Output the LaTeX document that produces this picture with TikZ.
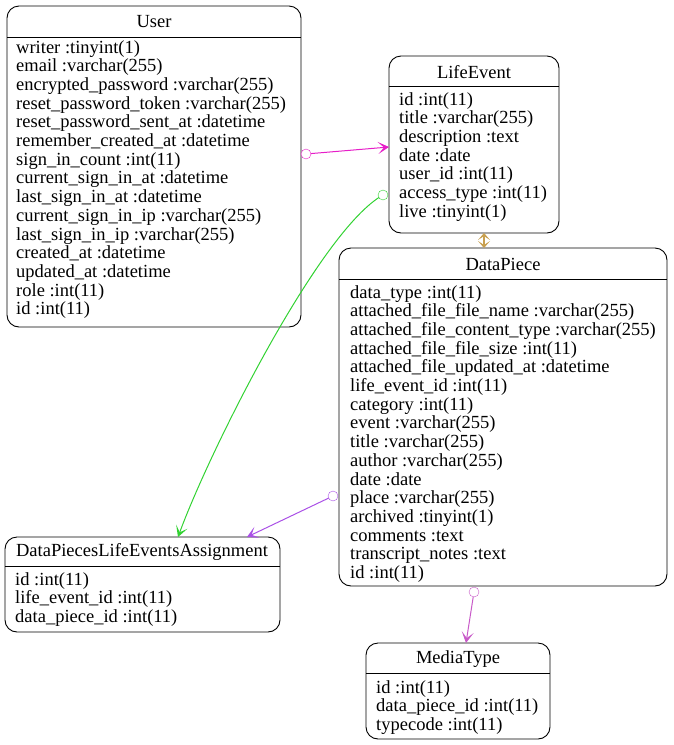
\documentclass[tikz,border=0pt]{standalone}
\usepackage{fontspec}
\setmainfont{Liberation Serif}
\usetikzlibrary{arrows.meta}
\begin{document}
\begin{tikzpicture}[x=1pt,y=-1pt,
  ent/.style={draw,rounded corners=12pt,line width=0.9pt},
  ttl/.style={font=\fontsize{18.5}{18.5}\selectfont,anchor=center,inner sep=0},
  att/.style={font=\fontsize{18.5}{18.7}\selectfont,anchor=north west,align=left,inner sep=0},
  crow/.style={-{Stealth[length=11pt,width=12pt,inset=6pt]}},
  odot/.style={draw,circle,minimum size=10pt,inner sep=0,fill=white}]
\useasboundingbox (0,0) rectangle (673,745);
% User
\draw[ent] (7,6) rectangle (301,327);
\draw[line width=0.9pt] (7,37) -- (301,37);
\node[ttl] (user) at (154,22) {User};
\node[att] (userA) at (16,40) {writer :tinyint(1)\\email :varchar(255)\\encrypted\_password :varchar(255)\\reset\_password\_token :varchar(255)\\reset\_password\_sent\_at :datetime\\remember\_created\_at :datetime\\sign\_in\_count :int(11)\\current\_sign\_in\_at :datetime\\last\_sign\_in\_at :datetime\\current\_sign\_in\_ip :varchar(255)\\last\_sign\_in\_ip :varchar(255)\\created\_at :datetime\\updated\_at :datetime\\role :int(11)\\id :int(11)};
% LifeEvent
\draw[ent] (389,56) rectangle (559,233);
\draw[line width=0.9pt] (389,86) -- (559,86);
\node[ttl] (le) at (474,72) {LifeEvent};
\node[att] (leA) at (399,92) {id :int(11)\\title :varchar(255)\\description :text\\date :date\\user\_id :int(11)\\access\_type :int(11)\\live :tinyint(1)};
% DataPiece
\draw[ent] (339,248) rectangle (667,586);
\draw[line width=0.9pt] (339,279) -- (667,279);
\node[ttl] (dp) at (503,264) {DataPiece};
\node[att] (dpA) at (350,285) {data\_type :int(11)\\attached\_file\_file\_name :varchar(255)\\attached\_file\_content\_type :varchar(255)\\attached\_file\_file\_size :int(11)\\attached\_file\_updated\_at :datetime\\life\_event\_id :int(11)\\category :int(11)\\event :varchar(255)\\title :varchar(255)\\author :varchar(255)\\date :date\\place :varchar(255)\\archived :tinyint(1)\\comments :text\\transcript\_notes :text\\id :int(11)};
% DPLEA
\draw[ent] (5,537) rectangle (280,632);
\draw[line width=0.9pt] (5,566) -- (280,566);
\node[ttl] (as) at (142,552) {DataPiecesLifeEventsAssignment};
\node[att] (asA) at (15,572) {id :int(11)\\life\_event\_id :int(11)\\data\_piece\_id :int(11)};
% MediaType
\draw[ent] (366,643) rectangle (550,739);
\draw[line width=0.9pt] (366,673) -- (550,673);
\node[ttl] (mt) at (458,659) {MediaType};
\node[att] (mtA) at (376,680) {id :int(11)\\data\_piece\_id :int(11)\\typecode :int(11)};
% connectors
\coordinate (c1) at (306,154); \coordinate (c1e) at (389,147);
\draw[crow,color={rgb,255:red,230;green,30;blue,200},line width=1pt] (c1) -- (c1e);
\node[odot,draw={rgb,255:red,230;green,30;blue,200}] (o1) at (c1) {};
\coordinate (t1) at (484,233); \coordinate (t2) at (484,248);
\draw[color={rgb,255:red,200;green,160;blue,80},line width=1.2pt,{Stealth[length=7pt,width=12pt,inset=4pt]}-{Stealth[length=7pt,width=12pt,inset=4pt]}] (t1) -- (t2);
\coordinate (g1) at (383,195); \coordinate (g2) at (178,537);
\draw[crow,color={rgb,255:red,50;green,210;blue,50},line width=1pt] (g1) .. controls (320,230) and (210,450) .. (g2);
\node[odot,draw={rgb,255:red,50;green,210;blue,50}] (o2) at (g1) {};
\coordinate (p1) at (333,496); \coordinate (p2) at (247,537);
\draw[crow,color={rgb,255:red,170;green,80;blue,230},line width=1pt] (p1) -- (p2);
\node[odot,draw={rgb,255:red,170;green,80;blue,230}] (o3) at (p1) {};
\coordinate (m1) at (474,592); \coordinate (m2) at (466,643);
\draw[crow,color={rgb,255:red,200;green,90;blue,200},line width=1pt] (m1) -- (m2);
\node[odot,draw={rgb,255:red,200;green,90;blue,200}] (o4) at (m1) {};
\end{tikzpicture}
\end{document}
